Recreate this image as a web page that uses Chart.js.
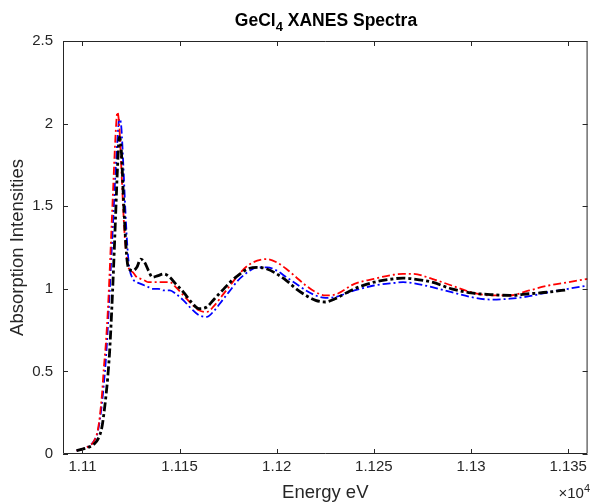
<!DOCTYPE html>
<html>
<head>
<meta charset="utf-8">
<script src="https://cdn.jsdelivr.net/npm/chart.js@4.4.0/dist/chart.umd.min.js"></script>
<style>
  html, body { margin: 0; padding: 0; background: #fff; }
  #wrap { position: relative; width: 591px; height: 504px; overflow: hidden; }
  #c { position: absolute; left: 0; top: 0; }
  #title { position: absolute; left: 63px; width: 526px; top: 10px; text-align: center;
           font: bold 17.5px "Liberation Sans", Arial, sans-serif; color: #000; line-height: 20px; }
  #title sub { font-size: 13px; vertical-align: -5px; line-height: 0; }
  #exp { position: absolute; right: 1px; top: 485px; font: 15px "Liberation Sans", Arial, sans-serif; color: #262626; line-height: 16px; }
  #exp sup { font-size: 11px; vertical-align: 6px; line-height: 0; }
</style>
</head>
<body>
<div id="wrap">
  <canvas id="c" width="591" height="504"></canvas>
  <div id="title">GeCl<sub>4</sub> XANES Spectra</div>
  <div id="exp">×10<sup>4</sup></div>
</div>
<script>
const energy = [11097, 11100, 11103, 11106, 11108, 11110, 11111, 11112, 11113, 11114, 11115, 11116, 11117, 11118, 11119, 11120, 11121, 11122, 11123, 11124, 11126, 11128, 11130, 11132, 11134, 11136, 11139, 11142, 11145, 11148, 11152, 11156, 11160, 11164, 11168, 11172, 11176, 11180, 11185, 11190, 11195, 11200, 11205, 11210, 11215, 11220, 11225, 11230, 11240, 11250, 11260, 11265, 11270, 11280, 11290, 11300, 11310, 11320, 11330, 11340, 11350, 11360];

const seriesBlack = [0.02, 0.03, 0.04, 0.06, 0.09, 0.16, 0.24, 0.34, 0.46, 0.62, 0.85, 1.12, 1.42, 1.72, 1.92, 1.84, 1.58, 1.34, 1.17, 1.12, 1.11, 1.13, 1.18, 1.16, 1.11, 1.07, 1.08, 1.09, 1.07, 1.03, 0.98, 0.92, 0.88, 0.89, 0.94, 0.99, 1.04, 1.08, 1.12, 1.13, 1.12, 1.09, 1.05, 1.00, 0.96, 0.93, 0.92, 0.94, 1.00, 1.04, 1.06, 1.065, 1.06, 1.04, 1.00, 0.975, 0.965, 0.96, 0.97, 0.98, 0.995, null];

const seriesRed = [0.02, 0.03, 0.045, 0.08, 0.15, 0.35, 0.52, 0.66, 0.85, 1.10, 1.38, 1.66, 1.92, 2.07, 1.98, 1.74, 1.48, 1.28, 1.17, 1.12, 1.10, 1.07, 1.06, 1.05, 1.04, 1.04, 1.04, 1.04, 1.04, 1.01, 0.96, 0.91, 0.87, 0.86, 0.90, 0.96, 1.02, 1.08, 1.14, 1.17, 1.18, 1.16, 1.12, 1.07, 1.02, 0.98, 0.96, 0.965, 1.03, 1.06, 1.085, 1.09, 1.09, 1.06, 1.02, 0.98, 0.96, 0.96, 0.99, 1.02, 1.04, 1.06];

const seriesBlue = [0.02, 0.03, 0.045, 0.08, 0.14, 0.30, 0.42, 0.56, 0.75, 0.98, 1.22, 1.46, 1.70, 1.90, 2.03, 1.98, 1.76, 1.50, 1.28, 1.14, 1.06, 1.04, 1.03, 1.02, 1.01, 1.00, 1.00, 0.99, 0.99, 0.97, 0.93, 0.88, 0.84, 0.83, 0.87, 0.93, 0.99, 1.05, 1.10, 1.13, 1.13, 1.11, 1.07, 1.03, 0.99, 0.96, 0.945, 0.95, 0.99, 1.02, 1.035, 1.04, 1.035, 1.01, 0.98, 0.95, 0.935, 0.94, 0.955, 0.98, 1.00, 1.02];

const xTickValues = [11100, 11150, 11200, 11250, 11300, 11350];
const xTickLabels = ['1.11', '1.115', '1.12', '1.125', '1.13', '1.135'];
const yTickValues = [0, 0.5, 1, 1.5, 2, 2.5];
const yTickLabels = ['0', '0.5', '1', '1.5', '2', '2.5'];

function pts(ys) { return energy.map((x, i) => ({ x: x, y: ys[i] })); }

const AXIS_COLOR = '#262626';
const FONT = '"Liberation Sans", Arial, sans-serif';

const boxTicks = {
  id: 'boxTicks',
  afterDatasetsDraw(chart) {
    const { ctx, chartArea: a, scales } = chart;
    ctx.save();
    ctx.strokeStyle = AXIS_COLOR;
    ctx.lineWidth = 1;
    ctx.beginPath();
    ctx.rect(a.left + 0.5, a.top + 0.5, a.right - a.left - 1, a.bottom - a.top - 1);
    ctx.stroke();
    const L = 5;
    ctx.beginPath();
    xTickValues.forEach(v => {
      const x = Math.round(scales.x.getPixelForValue(v)) + 0.5;
      ctx.moveTo(x, a.bottom); ctx.lineTo(x, a.bottom - L);
      ctx.moveTo(x, a.top); ctx.lineTo(x, a.top + L);
    });
    yTickValues.forEach(v => {
      const y = Math.round(scales.y.getPixelForValue(v)) + 0.5;
      ctx.moveTo(a.left, y); ctx.lineTo(a.left + L, y);
      ctx.moveTo(a.right, y); ctx.lineTo(a.right - L, y);
    });
    ctx.stroke();
    ctx.restore();
  }
};

new Chart(document.getElementById('c'), {
  type: 'line',
  data: {
    datasets: [
      { label: 'black', data: pts(seriesBlack), borderColor: '#000000', borderWidth: 2.8,
        borderDash: [9, 3, 3, 3], pointRadius: 0, cubicInterpolationMode: 'monotone', spanGaps: false },
      { label: 'red', data: pts(seriesRed), borderColor: '#ff0000', borderWidth: 1.8,
        borderDash: [8, 3, 2, 3], pointRadius: 0, cubicInterpolationMode: 'monotone' },
      { label: 'blue', data: pts(seriesBlue), borderColor: '#0000ff', borderWidth: 1.8,
        borderDash: [8, 3, 2, 3], pointRadius: 0, cubicInterpolationMode: 'monotone' }
    ]
  },
  options: {
    responsive: false,
    animation: false,
    devicePixelRatio: 1,
    layout: { padding: { top: 41, right: 2, left: 0, bottom: 0 } },
    plugins: { legend: { display: false }, title: { display: false }, tooltip: { enabled: false } },
    scales: {
      x: {
        type: 'linear', min: 11090, max: 11360,
        afterBuildTicks: s => { s.ticks = xTickValues.map(v => ({ value: v })); },
        afterFit: s => { s.height = 50; },
        grid: { display: false, drawTicks: false },
        border: { display: false },
        ticks: { color: AXIS_COLOR, font: { family: FONT, size: 15 }, padding: 4, maxRotation: 0,
                 callback: (v) => xTickLabels[xTickValues.indexOf(v)] },
        title: { display: true, text: 'Energy eV', color: AXIS_COLOR, font: { family: FONT, size: 18.5 }, padding: { top: 0, bottom: 0 } }
      },
      y: {
        type: 'linear', min: 0, max: 2.5,
        afterBuildTicks: s => { s.ticks = yTickValues.map(v => ({ value: v })); },
        afterFit: s => { s.width = 63; },
        grid: { display: false, drawTicks: false },
        border: { display: false },
        ticks: { color: AXIS_COLOR, font: { family: FONT, size: 15 }, padding: 10,
                 callback: (v) => yTickLabels[yTickValues.indexOf(v)] },
        title: { display: true, text: 'Absorption Intensities', color: AXIS_COLOR, font: { family: FONT, size: 18.5 }, padding: { top: 7, bottom: 0 } }
      }
    }
  },
  plugins: [boxTicks]
});
</script>
</body>
</html>
